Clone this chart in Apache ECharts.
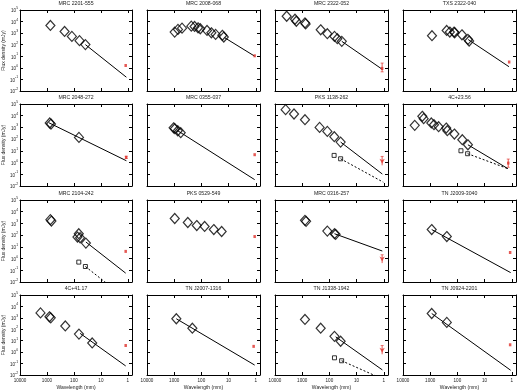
<!DOCTYPE html>
<html>
<head>
<meta charset="utf-8">
<script src="https://cdn.jsdelivr.net/npm/echarts@6/dist/echarts.min.js"></script>
<style>
  html, body { margin: 0; padding: 0; background: #fff; }
  #chart { width: 520px; height: 391px; }
</style>
</head>
<body>
<div id="chart"></div>
<script>
// panel titles, row by row
const titles = [
  "MRC 2201-555", "MRC 2008-068", "MRC 2322-052", "TXS 2322-040",
  "MRC 2048-272", "MRC 0355-037", "PKS 1138-262", "4C+23.56",
  "MRC 2104-242", "PKS 0529-549", "MRC 0316-257", "TN J2009-3040",
  "4C+41.17", "TN J2007-1316", "TN J1338-1942", "TN J0924-2201"
];

// [wavelength mm, flux mJy] radio points (open diamonds)
const diamonds = [
  [[746, 4600], [222, 1400], [119, 525], [62, 224], [37.5, 102]],
  [[960, 1230], [725, 2100], [515, 2700], [235, 4000], [178, 3800], [133, 2900], [110, 2400], [62, 1700], [43, 1070], [30, 780], [17, 650], [15, 460]],
  [[3720, 28800], [1840, 15900], [1640, 10700], [790, 7750], [747, 6300], [209, 1950], [119, 890], [65, 525], [51, 330], [35, 196]],
  [[859, 600], [248, 1700], [190, 1240], [133, 1240], [126, 1070], [68, 720], [41, 290], [37, 210]],
  [[790, 2380], [710, 1950], [65, 141]],
  [[1050, 930], [950, 780], [740, 520], [575, 355]],
  [[4070, 33000], [2000, 14000], [790, 4570], [229, 1010], [119, 460], [66, 162], [38.6, 56]],
  [[3700, 1510], [1950, 8900], [1740, 5600], [910, 2400], [725, 1700], [490, 1150], [257, 890], [235, 525], [129, 273], [66, 90], [41, 33]],
  [[747, 2100], [685, 1600], [66, 132], [74, 69], [59, 60], [36, 21]],
  [[955, 2630], [316, 1200], [148, 660], [76, 550], [35, 300], [18, 205]],
  [[790, 1830], [720, 1500], [119, 222], [65, 132], [59, 117]],
  [[880, 300], [245, 76]],
  [[1740, 2700], [810, 1240], [725, 1000], [209, 195], [65, 38], [21, 6.4]],
  [[835, 835], [215, 124]],
  [[790, 725], [209, 124], [65, 24], [38.6, 9.0]],
  [[880, 2400], [245, 400]]
];

// small open squares (second component)
const squares = [
  null, null, null, null,
  null, null, [[67, 4.1], [38.6, 2.1]], [[74, 10.2], [42, 5.7]],
  [[66, 0.5], [37.5, 0.21]], null, null, null,
  null, null, [[65, 0.32], [35.5, 0.176]], null
];

// power-law fits, solid
const fitLines = [
  [[37.5, 102], [1.13, 0.155]],
  [[14, 405], [1.1, 10.2]],
  [[35, 196], [1.13, 0.74]],
  [[40, 280], [1.27, 1.26]],
  [[850, 2500], [1.13, 1.43]],
  [[740, 520], [1.1, 0.035]],
  [[38.6, 56], [1.13, 0.105]],
  [[41, 33], [1.38, 0.3]],
  [[36, 26], [1.2, 0.057]],
  null,
  [[65, 132], [1.13, 4.4]],
  [[880, 300], [1.1, 0.063]],
  [[59, 44], [1.2, 0.062]],
  [[835, 835], [1.1, 0.074]],
  [[59, 22], [1.13, 0.028]],
  [[880, 2400], [1.1, 0.026]]
];

// fits to the squares, dashed
const dashLines = [
  null, null, null, null,
  null, null, [[38.6, 2.1], [1.04, 0.021]], [[42, 5.7], [1.38, 0.3]],
  [[37.5, 0.21], [1.2, 0.0004]], null, null, null,
  null, null, [[35.5, 0.176], [1.13, 0.0046]], null
];

// mm detections (red)
const redPoints = [
  [1.2, 1.6], [1.1, 11], [1.15, 0.9], [1.25, 3.2],
  [1.15, 2.8], [1.1, 4.7], null, [1.35, 0.9],
  [1.2, 4.1], [1.1, 76], null, [1.15, 3.3],
  [1.2, 3.8], [1.2, 3.2], null, [1.15, 4.4]
];
// error bars [wavelength, low, high]
const redErrors = [
  null, null, [1.15, 0.45, 2.6], null,
  [1.15, 2.2, 3.5], null, null, [1.35, 0.4, 2.0],
  null, null, null, null,
  null, null, null, null
];
// upper limits [wavelength, from, to]
const redLimits = [
  null, null, null, null,
  null, null, [1.15, 3.4, 0.58], null,
  null, null, [1.15, 2.1, 0.41], null,
  null, null, [1.15, 3.8, 0.65], null
];

const lefts = [19, 147, 275, 403];
const tops = [9, 104, 200, 295];
const W = 113, H = 82;
const RED = "#e0312b";
const FONT = "Liberation Sans";

function isDecade(v) {
  const e = Math.log10(v);
  return Math.abs(e - Math.round(e)) < 1e-6;
}

const grids = [], xAxes = [], yAxes = [], series = [];

for (let i = 0; i < 16; i++) {
  const row = Math.floor(i / 4), col = i % 4;
  grids.push({ left: lefts[col], top: tops[row], width: W, height: H });

  const axisLine = { show: true, onZero: false, lineStyle: { color: "#000", width: 1 } };
  const axisTick = { show: true, inside: true, length: 3, lineStyle: { color: "#000", width: 1 } };

  // bottom x
  xAxes.push({
    type: "log", gridIndex: i, inverse: true, min: 0.7, max: 10000, position: "bottom",
    axisLine, axisTick, splitLine: { show: false },
    axisLabel: {
      show: row === 3, fontSize: 4.6, margin: 3, color: "#222", fontFamily: FONT,
      showMinLabel: true, showMaxLabel: true, hideOverlap: false,
      formatter: (v) => isDecade(v) ? String(Math.round(v)) : ""
    },
    name: row === 3 ? "Wavelength (mm)" : "", nameLocation: "middle", nameGap: 10,
    nameTextStyle: { fontSize: 5, color: "#222", fontFamily: FONT }
  });
  // top x, carries the title
  xAxes.push({
    type: "log", gridIndex: i, inverse: true, min: 0.7, max: 10000, position: "top",
    axisLine, axisTick, splitLine: { show: false }, axisLabel: { show: false },
    name: titles[i], nameLocation: "middle", nameGap: 4,
    nameTextStyle: { fontSize: 5.2, color: "#222", fontFamily: FONT }
  });
  // left y
  yAxes.push({
    type: "log", gridIndex: i, min: 0.01, max: 100000, position: "left",
    axisLine, axisTick, splitLine: { show: false },
    axisLabel: {
      show: col === 0, margin: 2, color: "#222", fontFamily: FONT,
      showMinLabel: true, showMaxLabel: true, hideOverlap: false,
      formatter: (v) => isDecade(v) ? "{b|10}{s|" + Math.round(Math.log10(v)) + "}" : "",
      rich: {
        b: { fontSize: 4.6, lineHeight: 7, verticalAlign: "bottom", color: "#222", fontFamily: FONT },
        s: { fontSize: 3.4, lineHeight: 7, verticalAlign: "top", color: "#222", fontFamily: FONT }
      }
    },
    name: col === 0 ? "Flux density (mJy)" : "", nameLocation: "middle", nameGap: 12,
    nameTextStyle: { fontSize: 5, color: "#222", fontFamily: FONT }
  });
  // right y
  yAxes.push({
    type: "log", gridIndex: i, min: 0.01, max: 100000, position: "right",
    axisLine, axisTick, splitLine: { show: false }, axisLabel: { show: false }
  });

  const ax = { xAxisIndex: 2 * i, yAxisIndex: 2 * i };

  if (fitLines[i]) {
    series.push({ type: "line", ...ax, data: fitLines[i], symbol: "none", silent: true,
      lineStyle: { color: "#000", width: 1 }, z: 2 });
  }
  if (dashLines[i]) {
    series.push({ type: "line", ...ax, data: dashLines[i], symbol: "none", silent: true,
      lineStyle: { color: "#000", width: 1, type: [2, 2] }, z: 2 });
  }
  series.push({ type: "scatter", ...ax, data: diamonds[i], symbol: "diamond", symbolSize: [9, 10],
    itemStyle: { color: "rgba(0,0,0,0)", borderColor: "#000", borderWidth: 1.2 }, z: 3 });
  if (squares[i]) {
    series.push({ type: "scatter", ...ax, data: squares[i], symbol: "rect", symbolSize: 4,
      itemStyle: { color: "rgba(0,0,0,0)", borderColor: "#000", borderWidth: 1 }, z: 3 });
  }
  if (redErrors[i]) {
    const [x, lo, hi] = redErrors[i];
    series.push({ type: "line", ...ax, data: [[x, lo], [x, hi]], symbol: "none", silent: true,
      lineStyle: { color: RED, width: 0.8 }, z: 4 });
    series.push({ type: "scatter", ...ax, data: [[x, lo], [x, hi]], symbol: "rect", symbolSize: [3, 0.8],
      itemStyle: { color: RED }, z: 4 });
  }
  if (redPoints[i]) {
    series.push({ type: "scatter", ...ax, data: [redPoints[i]], symbol: "rect", symbolSize: [2.5, 3],
      itemStyle: { color: RED }, z: 5 });
  }
  if (redLimits[i]) {
    const [x, from, to] = redLimits[i];
    series.push({ type: "line", ...ax, data: [[x, from], [x, to]], symbol: "none", silent: true,
      lineStyle: { color: RED, width: 0.8 }, z: 4 });
    series.push({ type: "scatter", ...ax, data: [[x, from]], symbol: "rect", symbolSize: [3, 0.8],
      itemStyle: { color: RED }, z: 4 });
    series.push({ type: "scatter", ...ax, data: [[x, to]], symbol: "arrow", symbolRotate: 180,
      symbolSize: [4, 5], symbolOffset: [0, -1.5], itemStyle: { color: RED }, z: 4 });
  }
}

const chart = echarts.init(document.getElementById("chart"), null, { renderer: "canvas" });
chart.setOption({
  animation: false,
  backgroundColor: "#fff",
  grid: grids,
  xAxis: xAxes,
  yAxis: yAxes,
  series: series
});
</script>
</body>
</html>
